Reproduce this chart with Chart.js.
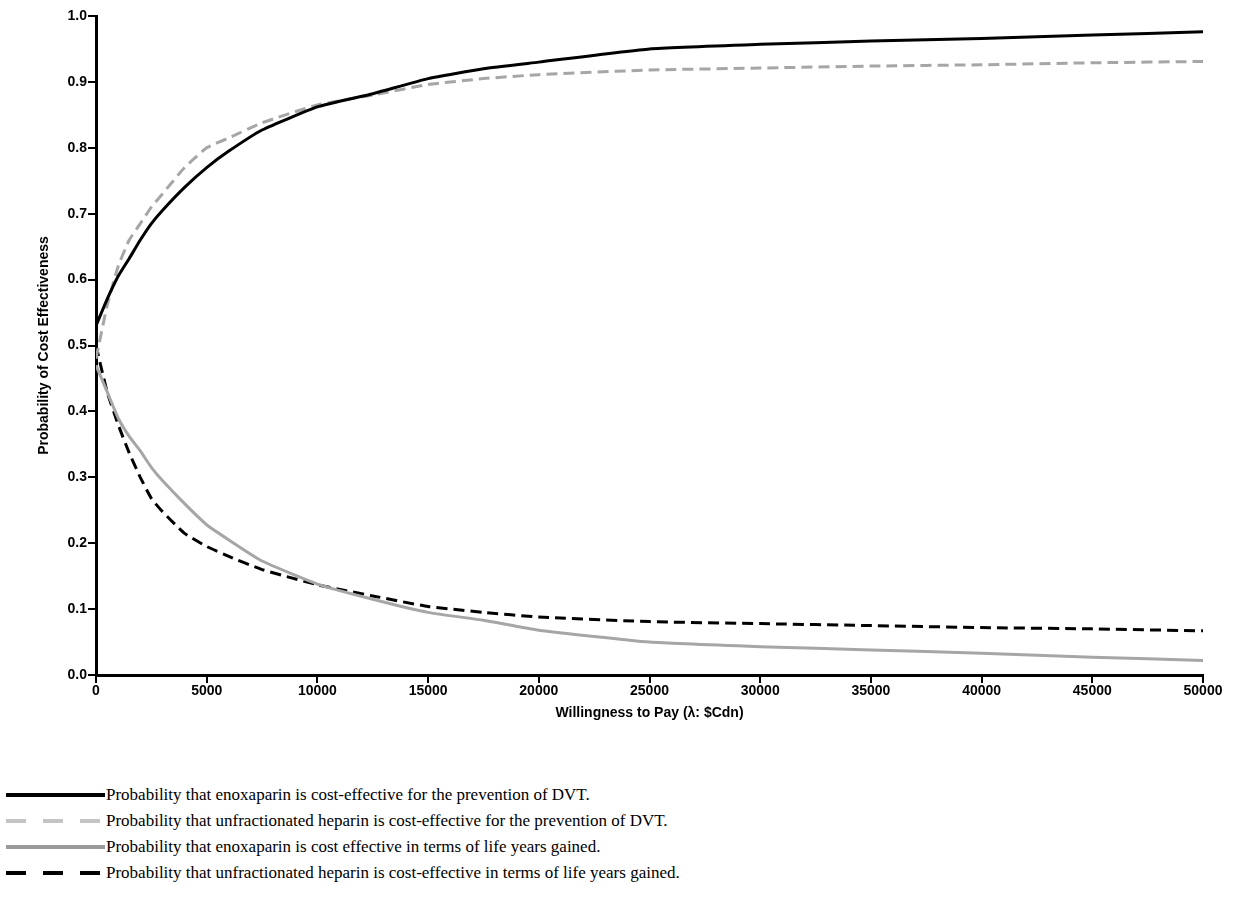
<!DOCTYPE html>
<html>
<head>
<meta charset="utf-8">
<script src="https://cdn.jsdelivr.net/npm/chart.js@4.4.1/dist/chart.umd.min.js"></script>
<style>
  html, body { margin: 0; padding: 0; background: #fff; }
  #wrap { position: relative; width: 1234px; height: 722px; }
  #legend { position: absolute; left: 0; top: 782px; font-family: "Liberation Serif", "Times New Roman", serif; font-size: 17px; color: #000; }
  .row { display: flex; align-items: center; height: 26px; }
  .row svg { flex: none; }
</style>
</head>
<body>
<div id="wrap"><canvas id="ceacChart"></canvas></div>
<div id="legend"></div>
<script>
// willingness to pay (λ, $Cdn)
const lambdaValues = [0, 500, 1000, 1500, 2000, 2500, 3000, 4000, 5000, 6000, 7500, 10000, 12500, 15000, 17500, 20000, 25000, 30000, 35000, 40000, 45000, 50000];

// probabilities
const enoxDvt   = [0.53, 0.57, 0.605, 0.632, 0.66, 0.685, 0.705, 0.74, 0.77, 0.795, 0.827, 0.862, 0.882, 0.905, 0.92, 0.93, 0.95, 0.957, 0.962, 0.966, 0.971, 0.976];
const ufhDvt    = [0.48, 0.56, 0.62, 0.66, 0.685, 0.71, 0.73, 0.77, 0.80, 0.815, 0.838, 0.865, 0.88, 0.896, 0.905, 0.911, 0.918, 0.921, 0.924, 0.926, 0.929, 0.931];
const enoxLyg   = [0.47, 0.43, 0.39, 0.362, 0.34, 0.315, 0.295, 0.26, 0.228, 0.205, 0.173, 0.138, 0.115, 0.095, 0.083, 0.068, 0.05, 0.043, 0.038, 0.033, 0.027, 0.022];
const ufhLyg    = [0.50, 0.43, 0.38, 0.337, 0.30, 0.268, 0.248, 0.215, 0.195, 0.18, 0.16, 0.137, 0.12, 0.104, 0.095, 0.088, 0.081, 0.078, 0.075, 0.072, 0.07, 0.067];

const legendLabels = [
    'Probability that enoxaparin is cost-effective for the prevention of DVT.',
    'Probability that unfractionated heparin is cost-effective for the prevention of DVT.',
    'Probability that enoxaparin is cost effective in terms of life years gained.',
    'Probability that unfractionated heparin is cost-effective in terms of life years gained.'
];

function toPoints(values) {
    return lambdaValues.map((x, i) => ({ x: x, y: values[i] }));
}

const styles = [
    { color: '#000000', dash: [], legendColor: '#000000' },
    { color: '#a6a6a6', dash: [11, 6], legendColor: '#c4c4c4' },
    { color: '#a6a6a6', dash: [], legendColor: '#9a9a9a' },
    { color: '#000000', dash: [11, 6], legendColor: '#000000' }
];
const series = [enoxDvt, ufhDvt, enoxLyg, ufhLyg];

const axisFont = { family: '"Liberation Sans", Arial, sans-serif', size: 14, weight: 'bold' };

new Chart(document.getElementById('ceacChart'), {
    type: 'line',
    data: {
        datasets: series.map((s, i) => ({
            label: legendLabels[i],
            data: toPoints(s),
            borderColor: styles[i].color,
            borderDash: styles[i].dash,
            borderWidth: 3,
            pointRadius: 0,
            tension: 0.15,
            fill: false
        }))
    },
    options: {
        responsive: true,
        maintainAspectRatio: false,
        animation: false,
        layout: { padding: { top: 16, right: 31, left: 36, bottom: 0 } },
        plugins: { legend: { display: false }, tooltip: { enabled: false } },
        scales: {
            x: {
                type: 'linear',
                min: 0,
                max: 50000,
                border: { color: '#000', width: 3 },
                grid: { drawOnChartArea: false, drawTicks: true, tickLength: 8, color: '#000', lineWidth: 2 },
                ticks: { stepSize: 5000, color: '#000', font: axisFont, padding: 0, maxRotation: 0, callback: v => String(v) },
                title: { display: true, text: 'Willingness to Pay (\u03bb: $Cdn)', color: '#000', font: axisFont, padding: { top: 4, bottom: 0 } },
                afterFit: (scale) => { scale.height = 47; }
            },
            y: {
                min: 0,
                max: 1,
                border: { color: '#000', width: 3 },
                grid: { drawOnChartArea: false, drawTicks: true, tickLength: 8, color: '#000', lineWidth: 2 },
                ticks: { stepSize: 0.1, color: '#000', font: axisFont, padding: 1, callback: v => v.toFixed(1) },
                title: { display: true, text: 'Probability of Cost Effectiveness', color: '#000', font: axisFont, padding: { top: 0, bottom: 4 } },
                afterFit: (scale) => { scale.width = 60; }
            }
        }
    }
});

// legend below the chart, like the original figure
const legendEl = document.getElementById('legend');
legendLabels.forEach((text, i) => {
    const st = styles[i];
    const dash = st.dash.length ? 'stroke-dasharray="20,17"' : '';
    const row = document.createElement('div');
    row.className = 'row';
    row.innerHTML = '<svg width="106" height="10"><line x1="6" y1="5" x2="105" y2="5" stroke="' + st.legendColor + '" stroke-width="4" ' + dash + '/></svg><span>' + text + '</span>';
    legendEl.appendChild(row);
});
</script>
</body>
</html>
